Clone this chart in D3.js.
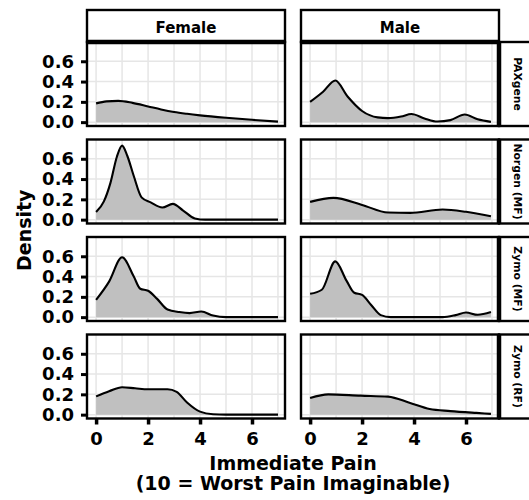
<!DOCTYPE html>
<html>
<head>
<meta charset="utf-8">
<script src="https://cdn.jsdelivr.net/npm/d3@7"></script>
<style>
  body { margin: 0; background: #fff; }
  text { font-family: "DejaVu Sans", sans-serif; font-weight: bold; fill: #000; }
</style>
</head>
<body>
<svg id="chart" width="529" height="500"></svg>
<script>
// Facet labels
const sexes = ["Female", "Male"];
const kits = ["PAXgene", "Norgen (MF)", "Zymo (MF)", "Zymo (RF)"];

// Axis ticks and grid
const xTicks = [0, 2, 4, 6];
const yTicks = [0, 0.2, 0.4, 0.6];
const xGrid = [0, 1, 2, 3, 4, 5, 6, 7];

// Estimated density curves: [pain score, density]
const femalePAXgene = [[0,0.185],[0.4,0.205],[0.85,0.21],[1.4,0.19],[2,0.155],[2.5,0.125],[3,0.1],[3.5,0.082],[4,0.067],[5,0.043],[6,0.023],[7,0.005]];
const malePAXgene = [[0,0.2],[0.5,0.3],[0.97,0.41],[1.45,0.25],[2,0.11],[2.6,0.047],[3,0.04],[3.5,0.055],[3.9,0.08],[4.4,0.037],[4.9,0.006],[5.4,0.02],[5.95,0.075],[6.45,0.028],[6.96,0.003]];
const femaleNorgen = [[0,0.075],[0.3,0.18],[0.55,0.36],[0.8,0.62],[1.0,0.73],[1.2,0.63],[1.45,0.43],[1.75,0.22],[2.1,0.17],[2.55,0.12],[2.95,0.155],[3.35,0.09],[3.8,0.012],[4.2,0.0],[5,0.0],[6,0.0],[7,0.0]];
const maleNorgen = [[0,0.175],[0.9,0.215],[2,0.145],[3,0.07],[3.85,0.067],[5.1,0.1],[6,0.077],[6.96,0.033]];
const femaleZymoMF = [[0,0.17],[0.5,0.35],[1.0,0.59],[1.45,0.4],[1.7,0.28],[2.0,0.26],[2.35,0.18],[2.75,0.075],[3.2,0.05],[3.6,0.04],[4.05,0.055],[4.5,0.016],[5,0.0],[6,0.0],[7,0.0]];
const maleZymoMF = [[0,0.23],[0.45,0.27],[0.97,0.55],[1.4,0.36],[1.7,0.24],[2.0,0.22],[2.35,0.12],[2.72,0.02],[3.1,0.0],[5.1,0.0],[5.6,0.02],[6,0.046],[6.45,0.023],[6.96,0.05]];
const femaleZymoRF = [[0,0.18],[0.5,0.23],[1.0,0.27],[1.5,0.26],[2,0.25],[2.75,0.25],[3.1,0.225],[3.5,0.12],[4.0,0.03],[4.5,0.004],[5,0.0],[6,0.0],[7,0.0]];
const maleZymoRF = [[0,0.165],[0.7,0.2],[1.95,0.187],[3,0.178],[3.85,0.115],[4.6,0.055],[5.4,0.035],[6.4,0.017],[6.96,0.008]];

const series = [
  [femalePAXgene, malePAXgene],
  [femaleNorgen, maleNorgen],
  [femaleZymoMF, maleZymoMF],
  [femaleZymoRF, maleZymoRF]
];

// Layout
const panelLeft = 87, panelTop = 42, pw = 198, ph = 84;
const colStep = 214, rowStep = 97.5;
const stripTop = 10, stripH = panelTop - stripTop;
const stripW = 38;

const svg = d3.select("#chart");

const x = d3.scaleLinear().domain([-0.35, 7.27]).range([0, pw]);
const y = d3.scaleLinear().domain([-0.038, 0.79]).range([ph, 0]);

const area = d3.area().x(d => x(d[0])).y0(y(0)).y1(d => y(d[1])).curve(d3.curveMonotoneX);
const line = d3.line().x(d => x(d[0])).y(d => y(d[1])).curve(d3.curveMonotoneX);

svg.append("defs").append("clipPath").attr("id", "panelClip")
  .append("rect").attr("width", pw).attr("height", ph);

kits.forEach((kit, r) => {
  sexes.forEach((sex, c) => {
    const g = svg.append("g")
      .attr("transform", `translate(${panelLeft + c * colStep},${panelTop + r * rowStep})`);

    g.append("rect").attr("width", pw).attr("height", ph).attr("fill", "#fff");

    const inner = g.append("g").attr("clip-path", "url(#panelClip)");
    inner.selectAll(".gx").data(xGrid).join("line")
      .attr("x1", d => x(d)).attr("x2", d => x(d))
      .attr("y1", 0).attr("y2", ph)
      .attr("stroke", "#e6e6e6").attr("stroke-width", 1.5);
    inner.selectAll(".gy").data(yTicks).join("line")
      .attr("x1", 0).attr("x2", pw)
      .attr("y1", d => y(d)).attr("y2", d => y(d))
      .attr("stroke", "#e6e6e6").attr("stroke-width", 1.5);

    const data = series[r][c];
    inner.append("path").datum(data).attr("d", area).attr("fill", "#c0c0c0");
    inner.append("path").datum(data).attr("d", line)
      .attr("fill", "none").attr("stroke", "#000").attr("stroke-width", 2.1);

    g.append("rect").attr("width", pw).attr("height", ph)
      .attr("fill", "none").attr("stroke", "#000").attr("stroke-width", 2.4);

    if (c === 0) {
      const ax = g.append("g").call(
        d3.axisLeft(y).tickValues(yTicks).tickFormat(d3.format(".1f")).tickSize(6).tickPadding(7));
      ax.select(".domain").remove();
      ax.selectAll(".tick line").attr("stroke", "#000").attr("stroke-width", 3);
      ax.selectAll(".tick text").attr("font-size", 18).attr("fill", "#000")
        .attr("font-family", "DejaVu Sans").attr("font-weight", "bold");
    }
    if (r === kits.length - 1) {
      const ax = g.append("g").attr("transform", `translate(0,${ph})`).call(
        d3.axisBottom(x).tickValues(xTicks).tickFormat(d3.format("d")).tickSize(6).tickPadding(8));
      ax.select(".domain").remove();
      ax.selectAll(".tick line").attr("stroke", "#000").attr("stroke-width", 3.5);
      ax.selectAll(".tick text").attr("font-size", 18).attr("fill", "#000")
        .attr("font-family", "DejaVu Sans").attr("font-weight", "bold");
    }
  });

  // Row strip on the right
  const sy = panelTop + r * rowStep;
  const sx = panelLeft + colStep + pw;
  svg.append("rect").attr("x", sx).attr("y", sy).attr("width", stripW).attr("height", ph)
    .attr("fill", "#fff").attr("stroke", "#000").attr("stroke-width", 2.4);
  svg.append("line").attr("x1", sx).attr("x2", sx).attr("y1", sy).attr("y2", sy + ph)
    .attr("stroke", "#000").attr("stroke-width", 4.5);
  svg.append("text")
    .attr("transform", `translate(${sx + 19},${sy + ph / 2}) rotate(90)`)
    .attr("text-anchor", "middle").attr("dy", "0.36em")
    .attr("font-size", 10.8).text(kit);
});

// Column strips on top
sexes.forEach((sex, c) => {
  const sx = panelLeft + c * colStep;
  svg.append("rect").attr("x", sx).attr("y", stripTop).attr("width", pw).attr("height", stripH)
    .attr("fill", "#fff").attr("stroke", "#000").attr("stroke-width", 2.4);
  svg.append("line").attr("x1", sx).attr("x2", sx + pw).attr("y1", panelTop).attr("y2", panelTop)
    .attr("stroke", "#000").attr("stroke-width", 4.5);
  svg.append("text").attr("x", sx + pw / 2).attr("y", 32.5)
    .attr("text-anchor", "middle").attr("font-size", 15).text(sex);
});

// Axis titles
const centerX = panelLeft + (colStep + pw) / 2;
svg.append("text").attr("x", centerX).attr("y", 470)
  .attr("text-anchor", "middle").attr("font-size", 19).text("Immediate Pain");
svg.append("text").attr("x", centerX).attr("y", 490)
  .attr("text-anchor", "middle").attr("font-size", 19).text("(10 = Worst Pain Imaginable)");
svg.append("text")
  .attr("transform", `translate(30.5,${panelTop + (3 * rowStep + ph) / 2}) rotate(-90)`)
  .attr("text-anchor", "middle").attr("font-size", 19).text("Density");
</script>
</body>
</html>
